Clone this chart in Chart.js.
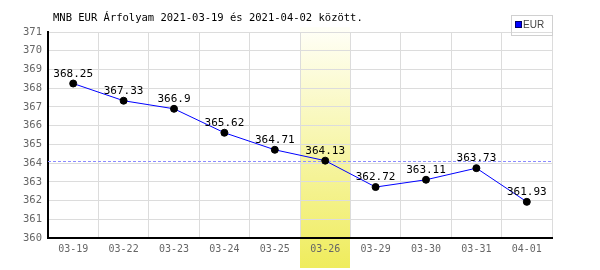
<!DOCTYPE html>
<html><head><meta charset="utf-8">
<script src="https://cdn.jsdelivr.net/npm/chart.js@4/dist/chart.umd.min.js"></script>
<style>html,body{margin:0;padding:0;background:#fff}#w{width:600px;height:270px}</style>
</head><body><div id="w"><canvas id="c" width="600" height="270"></canvas></div>
<script>
const categories = ["03-19","03-22","03-23","03-24","03-25","03-26","03-29","03-30","03-31","04-01"];
const eurValues = [368.25, 367.33, 366.9, 365.62, 364.71, 364.13, 362.72, 363.11, 363.73, 361.93];
const highlightIndex = 5;
const seriesName = "EUR";
const titleText = "MNB EUR Árfolyam 2021-03-19 és 2021-04-02 között.";
const MONO = "'DejaVu Sans Mono', monospace";

const decor = {
  id: 'decor',
  beforeDraw(chart) {
    const ctx = chart.ctx, x = chart.scales.x;
    const cx = x.getPixelForValue(highlightIndex);
    const half = (x.getPixelForValue(1) - x.getPixelForValue(0)) / 2;
    const top = chart.chartArea.top - 5, bottom = 268;
    const g = ctx.createLinearGradient(0, top, 0, bottom);
    g.addColorStop(0, '#fffff8');
    g.addColorStop(1, '#efec5c');
    ctx.save();
    ctx.fillStyle = g;
    ctx.fillRect(Math.round(cx - half), top, Math.round(2 * half), bottom - top);
    ctx.restore();
  },
  beforeDatasetsDraw(chart) {
    const ctx = chart.ctx, y = chart.scales.y, a = chart.chartArea;
    const py = Math.round(y.getPixelForValue(eurValues[highlightIndex])) + 0.5;
    ctx.save();
    ctx.strokeStyle = '#8c8cff';
    ctx.lineWidth = 1;
    ctx.setLineDash([3, 2]);
    ctx.beginPath(); ctx.moveTo(a.left, py); ctx.lineTo(a.right, py); ctx.stroke();
    ctx.restore();
  },
  afterDatasetsDraw(chart) {
    const ctx = chart.ctx, meta = chart.getDatasetMeta(0);
    ctx.save();
    ctx.font = "11px " + MONO;
    ctx.fillStyle = '#000';
    ctx.textAlign = 'center';
    ctx.textBaseline = 'alphabetic';
    meta.data.forEach((pt, i) => {
      ctx.fillText(String(eurValues[i]), pt.x, pt.y - 7);
    });
    // title
    ctx.textAlign = 'left';
    ctx.font = "10.5px " + MONO;
    ctx.fillText(titleText, 53, 21);
    // legend
    ctx.strokeStyle = '#d0d0d0';
    ctx.lineWidth = 1;
    ctx.strokeRect(511.5, 15.5, 41, 20);
    ctx.fillStyle = '#0000ff';
    ctx.fillRect(516, 22, 6, 6);
    ctx.strokeStyle = '#000066';
    ctx.strokeRect(515.5, 21.5, 6, 6);
    ctx.fillStyle = '#444';
    ctx.font = "10px 'Liberation Sans Narrow', 'Liberation Sans', sans-serif";
    ctx.textBaseline = 'middle';
    ctx.fillText(seriesName, 523, 25.5);
    ctx.restore();
  }
};

new Chart(document.getElementById('c'), {
  type: 'line',
  data: {
    labels: categories,
    datasets: [{
      label: seriesName,
      data: eurValues,
      borderColor: '#0000ff',
      borderWidth: 1,
      pointBackgroundColor: '#000',
      pointBorderColor: '#000',
      pointRadius: 3.5,
      pointHoverRadius: 3.5,
      tension: 0,
      fill: false
    }]
  },
  options: {
    responsive: false,
    animation: false,
    devicePixelRatio: 1,
    layout: { padding: { top: 32, right: 48, left: 0, bottom: 0 } },
    plugins: { legend: { display: false }, tooltip: { enabled: false }, title: { display: false } },
    scales: {
      x: {
        type: 'category',
        offset: true,
        grid: { offset: true, color: '#dcdcdc', drawTicks: false },
        border: { color: '#000', width: 2 },
        ticks: { color: '#666', font: { family: MONO, size: 10 }, padding: 5, maxRotation: 0, autoSkip: false },
        afterFit(s) { s.height = 32; }
      },
      y: {
        min: 360, max: 371,
        grid: { color: '#dcdcdc', drawTicks: false },
        border: { color: '#000', width: 2 },
        ticks: { stepSize: 1, color: '#666', font: { family: MONO, size: 10.5 }, padding: 6 },
        afterFit(s) { s.width = 48; }
      }
    }
  },
  plugins: [decor]
});
</script>
</body></html>
